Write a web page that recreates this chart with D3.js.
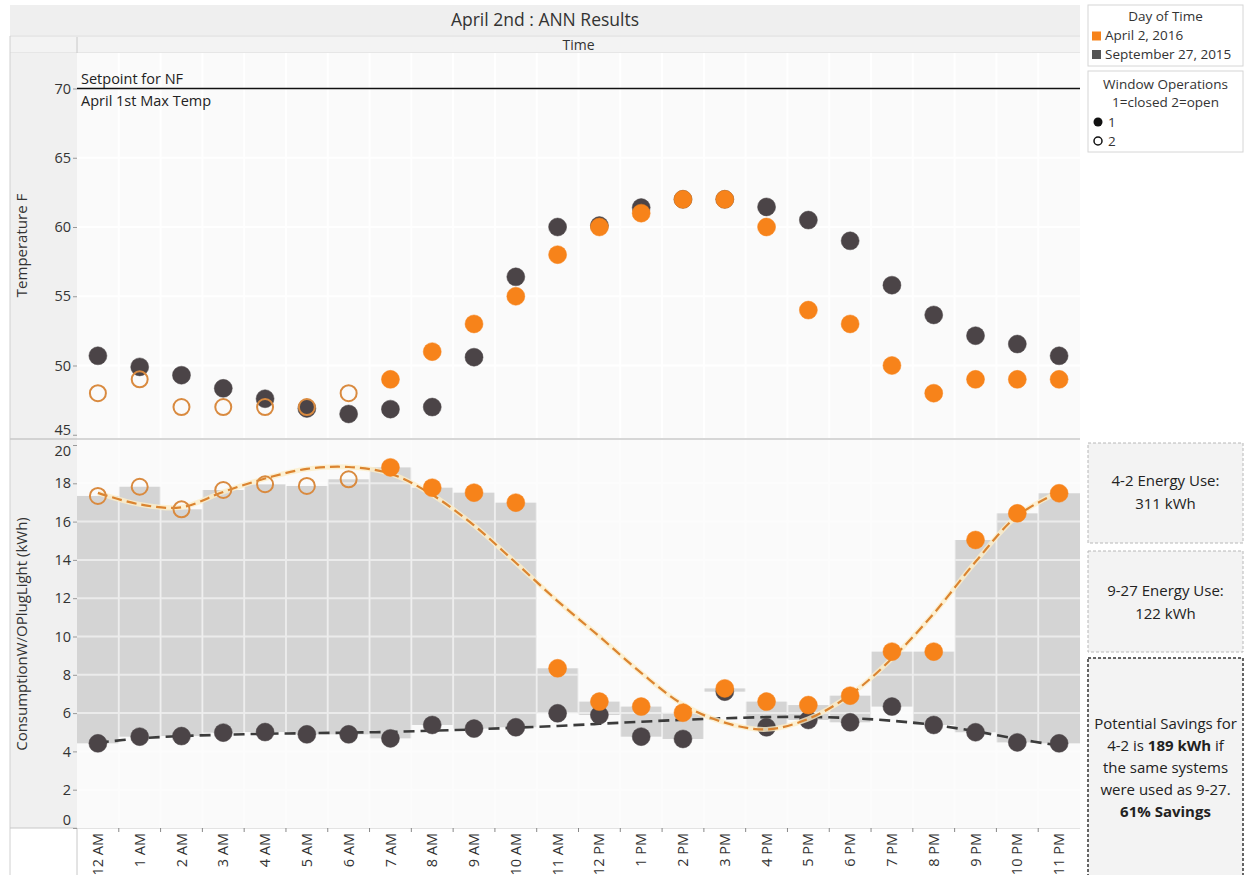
<!DOCTYPE html>
<html>
<head>
<meta charset="utf-8">
<script src="https://cdn.jsdelivr.net/npm/d3@7"></script>
<style>
  body { margin: 0; background: #fff; }
  svg { display: block; font-family: "Open Sans", "Noto Sans", sans-serif; }
</style>
</head>
<body>
<svg id="chart" width="1245" height="875"></svg>
<script>
// ---------------- DATA ----------------
const hours = ["12 AM","1 AM","2 AM","3 AM","4 AM","5 AM","6 AM","7 AM","8 AM","9 AM","10 AM","11 AM",
               "12 PM","1 PM","2 PM","3 PM","4 PM","5 PM","6 PM","7 PM","8 PM","9 PM","10 PM","11 PM"];
const seriesNames = ["April 2, 2016", "September 27, 2015"];

// Temperature F
const tempApr2  = [48,49,47,47,47,47,48,49,51,53,55,58,60,61,62,62,60,54,53,50,48,49,49,49];
const tempSep27 = [50.7,49.9,49.3,48.35,47.6,46.9,46.5,46.85,47.0,50.6,56.4,60.0,60.1,61.4,62.0,62.0,61.45,60.5,59.0,55.8,53.65,52.15,51.55,50.7];

// Window operations (1 = closed, 2 = open)
const windowApr2  = [2,2,2,2,2,2,2,1,1,1,1,1,1,1,1,1,1,1,1,1,1,1,1,1];
const windowSep27 = [1,1,1,1,1,1,1,1,1,1,1,1,1,1,1,1,1,1,1,1,1,1,1,1];

// Consumption W/O Plug Light (kWh)
const kwhApr2  = [17.34,17.82,16.64,17.65,17.95,17.86,18.21,18.83,17.77,17.51,16.99,8.34,6.60,6.34,6.02,7.29,6.60,6.42,6.91,9.21,9.21,15.04,16.43,17.48];
const kwhSep27 = [4.42,4.77,4.80,4.98,5.01,4.89,4.89,4.68,5.38,5.19,5.26,5.99,5.90,4.77,4.65,7.12,5.26,5.64,5.52,6.34,5.38,5.00,4.47,4.42];

// Trend lines
const trendApr2  = [17.5,16.9,16.75,17.55,18.25,18.75,18.85,18.5,17.4,15.8,13.85,11.85,10.0,8.1,6.45,5.5,5.15,5.7,6.95,8.85,11.2,13.9,16.3,17.55];
const trendSep27 = [4.45,4.68,4.8,4.87,4.92,4.95,4.98,5.02,5.08,5.15,5.24,5.33,5.44,5.55,5.65,5.73,5.79,5.8,5.74,5.6,5.38,5.05,4.65,4.3];

const tempTicks = [45,50,55,60,65,70];
const kwhTicks  = [0,2,4,6,8,10,12,14,16,18,20];
const refValue = 70;
const refLabels = ["Setpoint for NF", "April 1st Max Temp"];
const chartTitle = "April 2nd : ANN Results";
const colHeader = "Time";
const energyApr2 = 311, energySep27 = 122, savingsKwh = 189, savingsPct = 61;

// ---------------- STYLE ----------------
const ORANGE = "#f7831a", ORANGE_RING = "#d98a3f", DARK = "#4b4447";
const TREND_OR = "#db8430", TREND_DK = "#3b3b3b";
const BAR = "#d4d4d4", STRIP = "#f0f0f0", TXT = "#333";

const svg = d3.select("#chart");
const L = 77, R = 1080;
const topY0 = 53, topY1 = 438, botY0 = 440, botY1 = 828;

const x = d3.scaleBand().domain(hours).range([L, R]).padding(0);
const yT = d3.scaleLinear().domain([50, 70]).range([365.5, 88.5]);
const yK = d3.scaleLinear().domain([0, 20]).range([828, 445]);

// ---------- frame / header ----------
svg.append("rect").attr("x",10).attr("y",5).attr("width",R-10).attr("height",30).attr("fill","#efefef");
svg.append("text").attr("x",(10+R)/2).attr("y",26).attr("text-anchor","middle")
   .attr("font-size",17.5).attr("fill",TXT).text(chartTitle);
svg.append("rect").attr("x",10).attr("y",37).attr("width",R-10).attr("height",16).attr("fill","#f3f3f3");
svg.append("line").attr("x1",10).attr("x2",R).attr("y1",36).attr("y2",36).attr("stroke","#d0d0d0");
svg.append("line").attr("x1",10).attr("x2",R).attr("y1",53).attr("y2",53).attr("stroke","#d8d8d8");
svg.append("line").attr("x1",L).attr("x2",L).attr("y1",37).attr("y2",53).attr("stroke","#c8c8c8");
svg.append("text").attr("x",(L+R)/2).attr("y",50).attr("text-anchor","middle")
   .attr("font-size",14).attr("fill",TXT).text(colHeader);
svg.append("rect").attr("x",10).attr("y",53).attr("width",L-10).attr("height",botY1-53).attr("fill",STRIP);
svg.append("line").attr("x1",10).attr("x2",10).attr("y1",36).attr("y2",875).attr("stroke","#d0d0d0");
svg.append("line").attr("x1",10).attr("x2",R).attr("y1",botY1).attr("y2",botY1).attr("stroke","#c8c8c8");
svg.append("line").attr("x1",L).attr("x2",L).attr("y1",botY1).attr("y2",875).attr("stroke","#c8c8c8");

// ---------- panel backgrounds + grid ----------
function panelBg(y0, y1) {
  svg.append("rect").attr("x",L).attr("y",y0).attr("width",R-L).attr("height",y1-y0).attr("fill","#fafafa");
}
function grid(y0, y1, yScale, ticks, opacity) {
  const g = svg.append("g").attr("stroke","#fff").attr("stroke-width",2).attr("opacity",opacity);
  g.selectAll("line.v").data(hours.slice(1)).join("line")
    .attr("x1",d=>x(d)).attr("x2",d=>x(d)).attr("y1",y0).attr("y2",y1);
  g.selectAll("line.h").data(ticks).join("line")
    .attr("x1",L).attr("x2",R).attr("y1",d=>yScale(d)).attr("y2",d=>yScale(d));
}
panelBg(topY0, topY1);
panelBg(botY0, botY1);
grid(topY0, topY1, yT, tempTicks.filter(t=>t>45), 1);

// panel separator
svg.append("line").attr("x1",10).attr("x2",R).attr("y1",439).attr("y2",439).attr("stroke","#c8c8c8").attr("stroke-width",1.5);

// ---------- axes ----------
function yAxis(scale, ticks, title, cy, edgeFix) {
  const g = svg.append("g").attr("transform",`translate(${L},0)`)
    .call(d3.axisLeft(scale).tickValues(ticks).tickSize(4).tickPadding(2));
  g.select(".domain").remove();
  g.selectAll(".tick line").attr("stroke","#999");
  g.selectAll(".tick text").attr("font-size",14.5).attr("fill",TXT).attr("font-family","Open Sans, Noto Sans, sans-serif");
  g.selectAll(".tick text").attr("dy", d => edgeFix[d] !== undefined ? edgeFix[d] : "0.32em");
  svg.append("text").attr("transform",`translate(27,${cy}) rotate(-90)`)
    .attr("text-anchor","middle").attr("font-size",15).attr("fill",TXT).text(title);
}
yAxis(yT, tempTicks, "Temperature F", (topY0+topY1)/2, {45: "0em"});
yAxis(yK, kwhTicks, "ConsumptionW/OPlugLight (kWh)", (botY0+botY1)/2, {0: "-0.25em", 20: "0.7em"});

// x axis
const xa = svg.append("g").attr("transform",`translate(0,${botY1})`)
  .call(d3.axisBottom(x).tickSize(0));
xa.select(".domain").remove();
xa.selectAll(".tick text")
  .attr("font-size",14.5).attr("fill",TXT).attr("font-family","Open Sans, Noto Sans, sans-serif")
  .attr("transform","rotate(-90)").attr("x",-5).attr("y",0).attr("dy","0.35em")
  .style("text-anchor","end");
svg.append("g").selectAll("line").data(hours.slice(1)).join("line")
  .attr("x1",d=>x(d)).attr("x2",d=>x(d)).attr("y1",botY1).attr("y2",botY1+4).attr("stroke","#888");

// ---------- reference line ----------
svg.append("line").attr("x1",L).attr("x2",R).attr("y1",yT(refValue)).attr("y2",yT(refValue))
  .attr("stroke","#111").attr("stroke-width",1.5);
svg.append("text").attr("x",L+4).attr("y",yT(refValue)-5).attr("font-size",14.5).attr("fill","#222").text(refLabels[0]);
svg.append("text").attr("x",L+4).attr("y",yT(refValue)+17).attr("font-size",14.5).attr("fill","#222").text(refLabels[1]);

// ---------- temperature points ----------
const R_PT = 9;
function drawPoints(scale, values, windows, filled, ring) {
  svg.append("g").selectAll("circle").data(hours).join("circle")
    .attr("cx", d => x(d) + x.bandwidth()/2)
    .attr("cy", (d,i) => scale(values[i]))
    .attr("r", (d,i) => windows[i] === 2 ? R_PT - 1 : R_PT)
    .attr("fill", (d,i) => windows[i] === 2 ? "none" : filled)
    .attr("stroke", (d,i) => windows[i] === 2 ? ring : filled)
    .attr("stroke-width", (d,i) => windows[i] === 2 ? 2 : 0.5);
}
drawPoints(yT, tempSep27, windowSep27, DARK, DARK);
drawPoints(yT, tempApr2, windowApr2, ORANGE, ORANGE_RING);

// ---------- consumption panel ----------
svg.append("g").selectAll("rect").data(hours).join("rect")
  .attr("x", d => x(d))
  .attr("width", x.bandwidth())
  .attr("y", (d,i) => yK(Math.max(kwhApr2[i], kwhSep27[i])))
  .attr("height", (d,i) => Math.abs(yK(kwhSep27[i]) - yK(kwhApr2[i])))
  .attr("fill", BAR);
grid(botY0, botY1, yK, kwhTicks.filter(t=>t>0 && t<20), 0.55);

const line = scale => d3.line()
  .x((d,i) => x(hours[i]) + x.bandwidth()/2)
  .y(d => scale(d))
  .curve(d3.curveCatmullRom.alpha(0.5));

svg.append("path").datum(trendSep27).attr("d", line(yK)).attr("fill","none")
  .attr("stroke",TREND_DK).attr("stroke-width",2.6).attr("stroke-dasharray","11,6");
drawPoints(yK, kwhSep27, windowSep27, DARK, DARK);
svg.append("path").datum(trendApr2).attr("d", line(yK)).attr("fill","none")
  .attr("stroke","#fdeec8").attr("stroke-width",5).attr("opacity",0.8);
svg.append("path").datum(trendApr2).attr("d", line(yK)).attr("fill","none")
  .attr("stroke",TREND_OR).attr("stroke-width",2.2).attr("stroke-dasharray","10,5");
drawPoints(yK, kwhApr2, windowApr2, ORANGE, ORANGE_RING);

// ---------- legends ----------
const LX = 1088, LW = 155, LC = LX + LW/2;
svg.append("rect").attr("x",LX).attr("y",5).attr("width",LW).attr("height",61)
  .attr("fill","#fff").attr("stroke","#d6d6d6");
svg.append("text").attr("x",LC).attr("y",21).attr("text-anchor","middle").attr("font-size",13.5).attr("fill",TXT).text("Day of Time");
const legColors = [ORANGE, "#555"];
seriesNames.forEach((s,i) => {
  svg.append("rect").attr("x",LX+4).attr("y",31.5+i*18.5).attr("width",9).attr("height",9).attr("fill",legColors[i]);
  svg.append("text").attr("x",LX+17).attr("y",40+i*18.5).attr("font-size",13.5).attr("fill",TXT).text(s);
});
svg.append("rect").attr("x",LX).attr("y",71).attr("width",LW).attr("height",81)
  .attr("fill","#fff").attr("stroke","#d6d6d6");
svg.append("text").attr("x",LC).attr("y",89).attr("text-anchor","middle").attr("font-size",13.5).attr("fill",TXT).text("Window Operations");
svg.append("text").attr("x",LC).attr("y",107).attr("text-anchor","middle").attr("font-size",13.5).attr("fill",TXT).text("1=closed 2=open");
svg.append("circle").attr("cx",LX+10).attr("cy",122).attr("r",4.5).attr("fill","#111");
svg.append("text").attr("x",LX+20).attr("y",127).attr("font-size",13.5).attr("fill",TXT).text("1");
svg.append("circle").attr("cx",LX+10).attr("cy",141).attr("r",4).attr("fill","none").attr("stroke","#111").attr("stroke-width",1.5);
svg.append("text").attr("x",LX+20).attr("y",146).attr("font-size",13.5).attr("fill",TXT).text("2");

// ---------- text boxes ----------
function box(y, h, stroke, sw) {
  svg.append("rect").attr("x",LX).attr("y",y).attr("width",LW).attr("height",h)
    .attr("fill","#f3f3f3").attr("stroke",stroke).attr("stroke-width",sw).attr("stroke-dasharray","3,2");
}
box(443, 100, "#b8b8b8", 1);
box(551, 101, "#b8b8b8", 1);
box(658, 222, "#333", 1.5);

function centered(yb, parts) {
  const t = svg.append("text").attr("x",LC).attr("y",yb).attr("text-anchor","middle").attr("font-size",15).attr("fill","#222");
  parts.forEach(p => t.append("tspan").attr("font-weight", p[1] ? "bold" : "normal").text(p[0]));
}
centered(486, [["4-2 Energy Use:"]]);
centered(509, [[energyApr2 + " kWh"]]);
centered(596, [["9-27 Energy Use:"]]);
centered(619, [[energySep27 + " kWh"]]);
centered(729, [["Potential Savings for"]]);
centered(751, [["4-2 is "], [savingsKwh + " kWh", true], [" if"]]);
centered(773, [["the same systems"]]);
centered(795, [["were used as 9-27."]]);
centered(817, [[savingsPct + "% Savings", true]]);
</script>
</body>
</html>
